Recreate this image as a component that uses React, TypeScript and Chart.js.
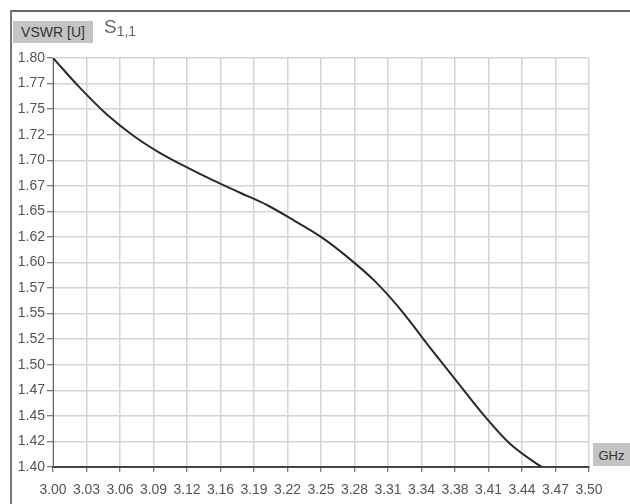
import React, { useEffect, useRef } from "react";
import { Chart, registerables } from "chart.js";

Chart.register(...registerables);

const freqGHz = [3.0, 3.025, 3.05, 3.075, 3.1, 3.125, 3.15, 3.175, 3.2, 3.225, 3.25, 3.275, 3.3, 3.325, 3.35, 3.375, 3.4, 3.425, 3.45, 3.456];
const vswr = [1.8, 1.771, 1.745, 1.724, 1.707, 1.693, 1.68, 1.668, 1.656, 1.641, 1.625, 1.605, 1.582, 1.553, 1.519, 1.486, 1.453, 1.424, 1.404, 1.4];

const xTickValues = [3.0, 3.03125, 3.0625, 3.09375, 3.125, 3.15625, 3.1875, 3.21875, 3.25, 3.28125, 3.3125, 3.34375, 3.375, 3.40625, 3.4375, 3.46875, 3.5];
const xTickLabels = ["3.00", "3.03", "3.06", "3.09", "3.12", "3.16", "3.19", "3.22", "3.25", "3.28", "3.31", "3.34", "3.38", "3.41", "3.44", "3.47", "3.50"];
const yTickValues = [1.4, 1.425, 1.45, 1.475, 1.5, 1.525, 1.55, 1.575, 1.6, 1.625, 1.65, 1.675, 1.7, 1.725, 1.75, 1.775, 1.8];
const yTickLabels = ["1.40", "1.42", "1.45", "1.47", "1.50", "1.52", "1.55", "1.57", "1.60", "1.62", "1.65", "1.67", "1.70", "1.72", "1.75", "1.77", "1.80"];

export default function App() {
  const ref = useRef<HTMLCanvasElement | null>(null);

  useEffect(() => {
    if (!ref.current) return;
    const font = { family: "'Liberation Sans', Arial, sans-serif", size: 14 };
    const chart = new Chart(ref.current, {
      type: "line",
      data: {
        datasets: [
          {
            data: freqGHz.map((f, i) => ({ x: f, y: vswr[i] })),
            borderColor: "#2a2a2a",
            borderWidth: 2,
            pointRadius: 0,
            cubicInterpolationMode: "monotone",
            fill: false,
          },
        ],
      },
      options: {
        animation: false,
        responsive: false,
        maintainAspectRatio: false,
        layout: { padding: { left: 0, top: 58, right: 41, bottom: 0 } },
        plugins: { legend: { display: false }, tooltip: { enabled: false }, title: { display: false } },
        scales: {
          x: {
            type: "linear",
            min: 3.0,
            max: 3.5,
            afterBuildTicks: (scale: any) => {
              scale.ticks = xTickValues.map((v) => ({ value: v }));
            },
            afterFit: (scale: any) => {
              scale.height = 37;
            },
            ticks: {
              autoSkip: false,
              maxRotation: 0,
              minRotation: 0,
              padding: 10,
              color: "#555",
              font,
              callback: (_v: any, i: number) => xTickLabels[i],
            },
            grid: { color: "#d4d4d4", lineWidth: 1.5, tickColor: "#555", tickLength: 5, tickWidth: 1 },
            border: { color: "#444", width: 2 },
          },
          y: {
            type: "linear",
            min: 1.4,
            max: 1.8,
            afterBuildTicks: (scale: any) => {
              scale.ticks = yTickValues.map((v) => ({ value: v }));
            },
            afterFit: (scale: any) => {
              scale.width = 53;
            },
            ticks: {
              autoSkip: false,
              padding: 2,
              color: "#555",
              font,
              callback: (_v: any, i: number) => yTickLabels[i],
            },
            grid: { color: "#d4d4d4", lineWidth: 1.5, tickColor: "#555", tickLength: 6, tickWidth: 1 },
            border: { color: "#666", width: 1 },
          },
        },
      },
    });
    return () => chart.destroy();
  }, []);

  return (
    <div style={{ position: "absolute", left: 0, top: 0, width: 630, height: 504, background: "#fff", overflow: "hidden" }}>
      <canvas ref={ref} width={630} height={504} style={{ position: "absolute", left: 0, top: 0, width: 630, height: 504 }} />
      <div style={{ position: "absolute", left: 10, top: 10, width: 620, height: 2, background: "#666" }} />
      <div style={{ position: "absolute", left: 10, top: 10, width: 2, height: 494, background: "#777" }} />
      <div
        style={{
          position: "absolute",
          left: 13,
          top: 21,
          width: 80,
          height: 22,
          background: "#c4c4c4",
          color: "#333",
          font: "14px 'Liberation Sans', Arial, sans-serif",
          lineHeight: "22px",
          textAlign: "center",
        }}
      >
        VSWR [U]
      </div>
      <div
        style={{
          position: "absolute",
          left: 104,
          top: 16,
          color: "#666",
          font: "19px 'Liberation Sans', Arial, sans-serif",
          whiteSpace: "nowrap",
        }}
      >
        S<span style={{ fontSize: 14, position: "relative", top: 3 }}>1,1</span>
      </div>
      <div
        style={{
          position: "absolute",
          left: 593,
          top: 443,
          width: 37,
          height: 23,
          background: "#c4c4c4",
          color: "#333",
          font: "13px 'Liberation Sans', Arial, sans-serif",
          lineHeight: "26px",
          textAlign: "center",
        }}
      >
        GHz
      </div>
    </div>
  );
}
